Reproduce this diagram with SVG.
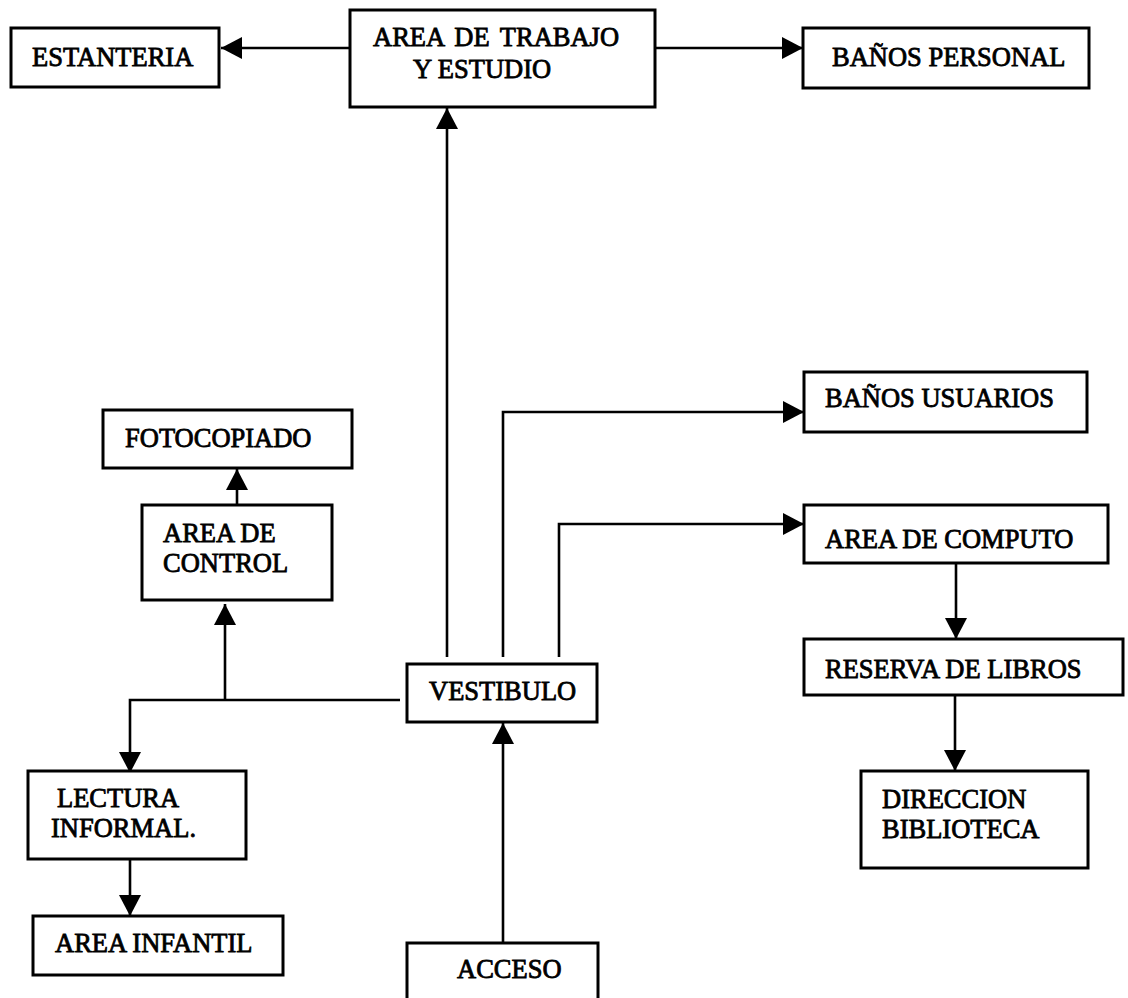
<svg xmlns="http://www.w3.org/2000/svg" width="1128" height="998" viewBox="0 0 1128 998">
<style>
.box{fill:#fff;stroke:#000;stroke-width:3}
.lbl{font-family:"Liberation Serif","Times New Roman",serif;font-size:26.5px;fill:#000;stroke:#000;stroke-width:0.8}
.con{fill:none;stroke:#000;stroke-width:2.6}
</style>
<defs>
<marker id="ah" markerUnits="userSpaceOnUse" markerWidth="24" markerHeight="24" refX="21" refY="11" orient="auto">
<path d="M0,0 L21,11 L0,22 Z" fill="#000"/>
</marker>
</defs>
<rect width="1128" height="998" fill="#fff"/>
<g id="connectors">
<path class="con" d="M350,48 H221" marker-end="url(#ah)"/>
<path class="con" d="M655,48 H803" marker-end="url(#ah)"/>
<path class="con" d="M447,657 V108" marker-end="url(#ah)"/>
<path class="con" d="M503,657 V412 H804" marker-end="url(#ah)"/>
<path class="con" d="M559,657 V524 H804" marker-end="url(#ah)"/>
<path class="con" d="M400,700 H130 V773" marker-end="url(#ah)"/>
<path class="con" d="M225,700 V604" marker-end="url(#ah)"/>
<path class="con" d="M237,505 V469" marker-end="url(#ah)"/>
<path class="con" d="M130,859 V916" marker-end="url(#ah)"/>
<path class="con" d="M503,943 V723" marker-end="url(#ah)"/>
<path class="con" d="M956,563 V639" marker-end="url(#ah)"/>
<path class="con" d="M955,695 V771" marker-end="url(#ah)"/>
</g>
<g id="estanteria"><rect class="box" x="11" y="28" width="208" height="59"/><text class="lbl" x="32" y="66">ESTANTERIA</text></g>
<g id="trabajo"><rect class="box" x="350" y="10" width="305" height="97"/><text class="lbl" x="373" y="46" word-spacing="4">AREA DE TRABAJO</text><text class="lbl" x="413" y="78">Y ESTUDIO</text></g>
<g id="banos-personal"><rect class="box" x="803" y="28" width="286" height="60"/><text class="lbl" x="832" y="66">BAÑOS PERSONAL</text></g>
<g id="banos-usuarios"><rect class="box" x="804" y="372" width="283" height="60"/><text class="lbl" x="825" y="407">BAÑOS USUARIOS</text></g>
<g id="fotocopiado"><rect class="box" x="103" y="410" width="249" height="58"/><text class="lbl" x="125" y="447">FOTOCOPIADO</text></g>
<g id="control"><rect class="box" x="142" y="505" width="190" height="95"/><text class="lbl" x="163" y="542">AREA DE</text><text class="lbl" x="163" y="572">CONTROL</text></g>
<g id="computo"><rect class="box" x="804" y="505" width="304" height="58"/><text class="lbl" x="825" y="548">AREA DE COMPUTO</text></g>
<g id="vestibulo"><rect class="box" x="407" y="664" width="190" height="58"/><text class="lbl" x="429" y="700">VESTIBULO</text></g>
<g id="reserva"><rect class="box" x="804" y="639" width="319" height="56"/><text class="lbl" x="825" y="678">RESERVA DE LIBROS</text></g>
<g id="lectura"><rect class="box" x="28" y="771" width="218" height="88"/><text class="lbl" x="57" y="807">LECTURA</text><text class="lbl" x="51" y="837">INFORMAL.</text></g>
<g id="direccion"><rect class="box" x="861" y="771" width="227" height="97"/><text class="lbl" x="882" y="808">DIRECCION</text><text class="lbl" x="882" y="838">BIBLIOTECA</text></g>
<g id="infantil"><rect class="box" x="33" y="916" width="250" height="59"/><text class="lbl" x="55" y="952">AREA INFANTIL</text></g>
<g id="acceso"><rect class="box" x="407" y="943" width="191" height="70"/><text class="lbl" x="457" y="978">ACCESO</text></g>
</svg>
